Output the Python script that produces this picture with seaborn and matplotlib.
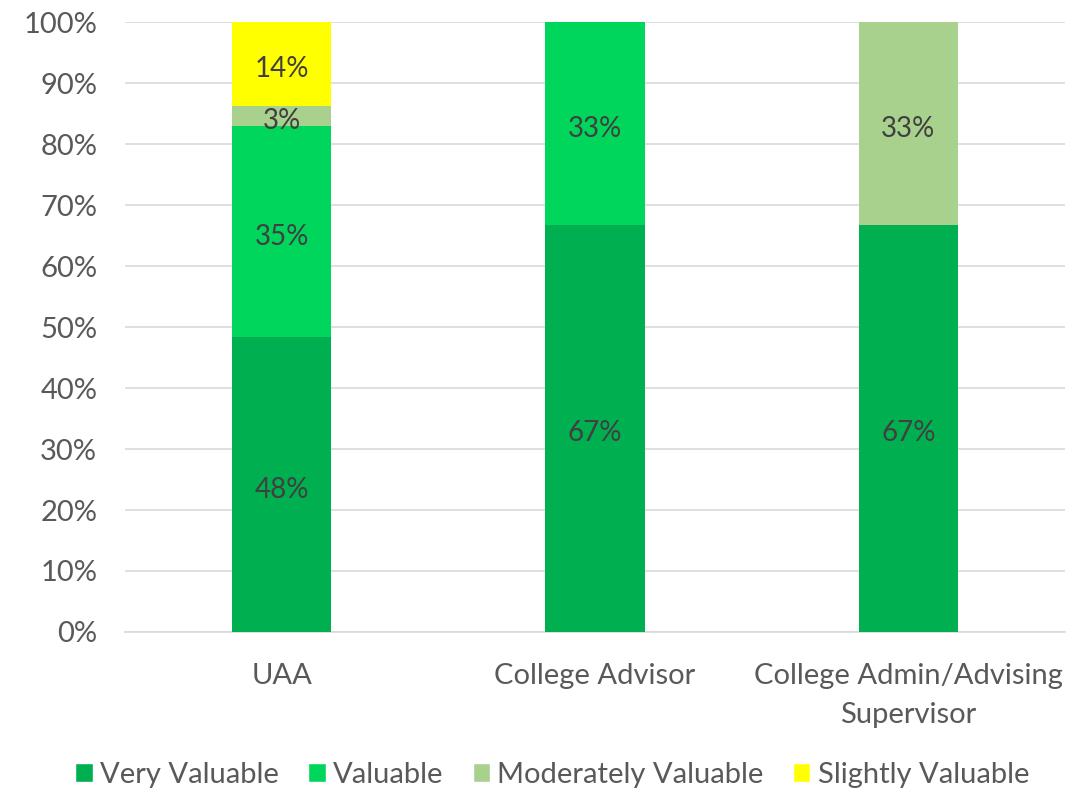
import numpy as np
import pandas as pd
import matplotlib
matplotlib.use("Agg")
import matplotlib.pyplot as plt
import seaborn as sns
from matplotlib.patches import Patch

categories = ["UAA", "College Advisor", "College Admin/Advising\nSupervisor"]
series_names = ["Very Valuable", "Valuable", "Moderately Valuable", "Slightly Valuable"]
very_valuable = [48.3, 66.7, 66.7]
valuable = [34.6, 33.3, 0.0]
moderately_valuable = [3.4, 0.0, 33.3]
slightly_valuable = [13.7, 0.0, 0.0]
colors = ["#00B050", "#00D65C", "#A9D18E", "#FFFF00"]
y_ticks = [0, 10, 20, 30, 40, 50, 60, 70, 80, 90, 100]

sns.set_theme(style="white")
plt.rcParams["font.family"] = ["Lato", "DejaVu Sans"]

fig = plt.figure(figsize=(10.83, 7.89), dpi=100)
ax = fig.add_axes([0.1154, 0.199, 0.868, 0.773])

series = [very_valuable, valuable, moderately_valuable, slightly_valuable]
bottom = np.zeros(len(categories))
for name, vals, col in zip(series_names, series, colors):
    df = pd.DataFrame({"cat": categories, "val": vals})
    sns.barplot(data=df, x="cat", y="val", color=col, width=0.316,
                bottom=bottom, ax=ax, saturation=1, errorbar=None,
                linewidth=0, order=categories, zorder=3)
    for i, v in enumerate(vals):
        if v > 0:
            ax.annotate(f"{int(v + 0.5)}%", xy=(i, bottom[i] + v / 2),
                        xytext=(0, -3.5), textcoords="offset points",
                        ha="center", va="center",
                        fontsize=20, color="#404040", zorder=4)
    bottom = bottom + np.array(vals)

ax.set_xlim(-0.5, 2.5)
ax.set_ylim(0, 100)
ax.set_yticks(y_ticks)
ax.set_yticklabels([f"{t}%" for t in y_ticks])
ax.yaxis.grid(True, color="#D9D9D9", linewidth=1.2, zorder=0)
ax.set_axisbelow(True)
for s in ["top", "right", "left"]:
    ax.spines[s].set_visible(False)
ax.spines["bottom"].set_color("#D9D9D9")
ax.spines["bottom"].set_linewidth(1.2)
ax.tick_params(axis="both", length=0, labelsize=21, labelcolor="#595959")
ax.tick_params(axis="x", pad=22)
ax.tick_params(axis="y", pad=20)
for lbl in ax.get_xticklabels():
    lbl.set_linespacing(1.62)
ax.set_xlabel("")
ax.set_ylabel("")

handles = [Patch(facecolor=c, label=n) for n, c in zip(series_names, colors)]
fig.legend(handles=handles, loc="center", bbox_to_anchor=(0.51, 0.018), ncol=4,
           frameon=False, fontsize=21, labelcolor="#595959", handlelength=0.6,
           handleheight=0.6, handletextpad=0.25, columnspacing=1.0)

fig.savefig("out.png", dpi=100)
